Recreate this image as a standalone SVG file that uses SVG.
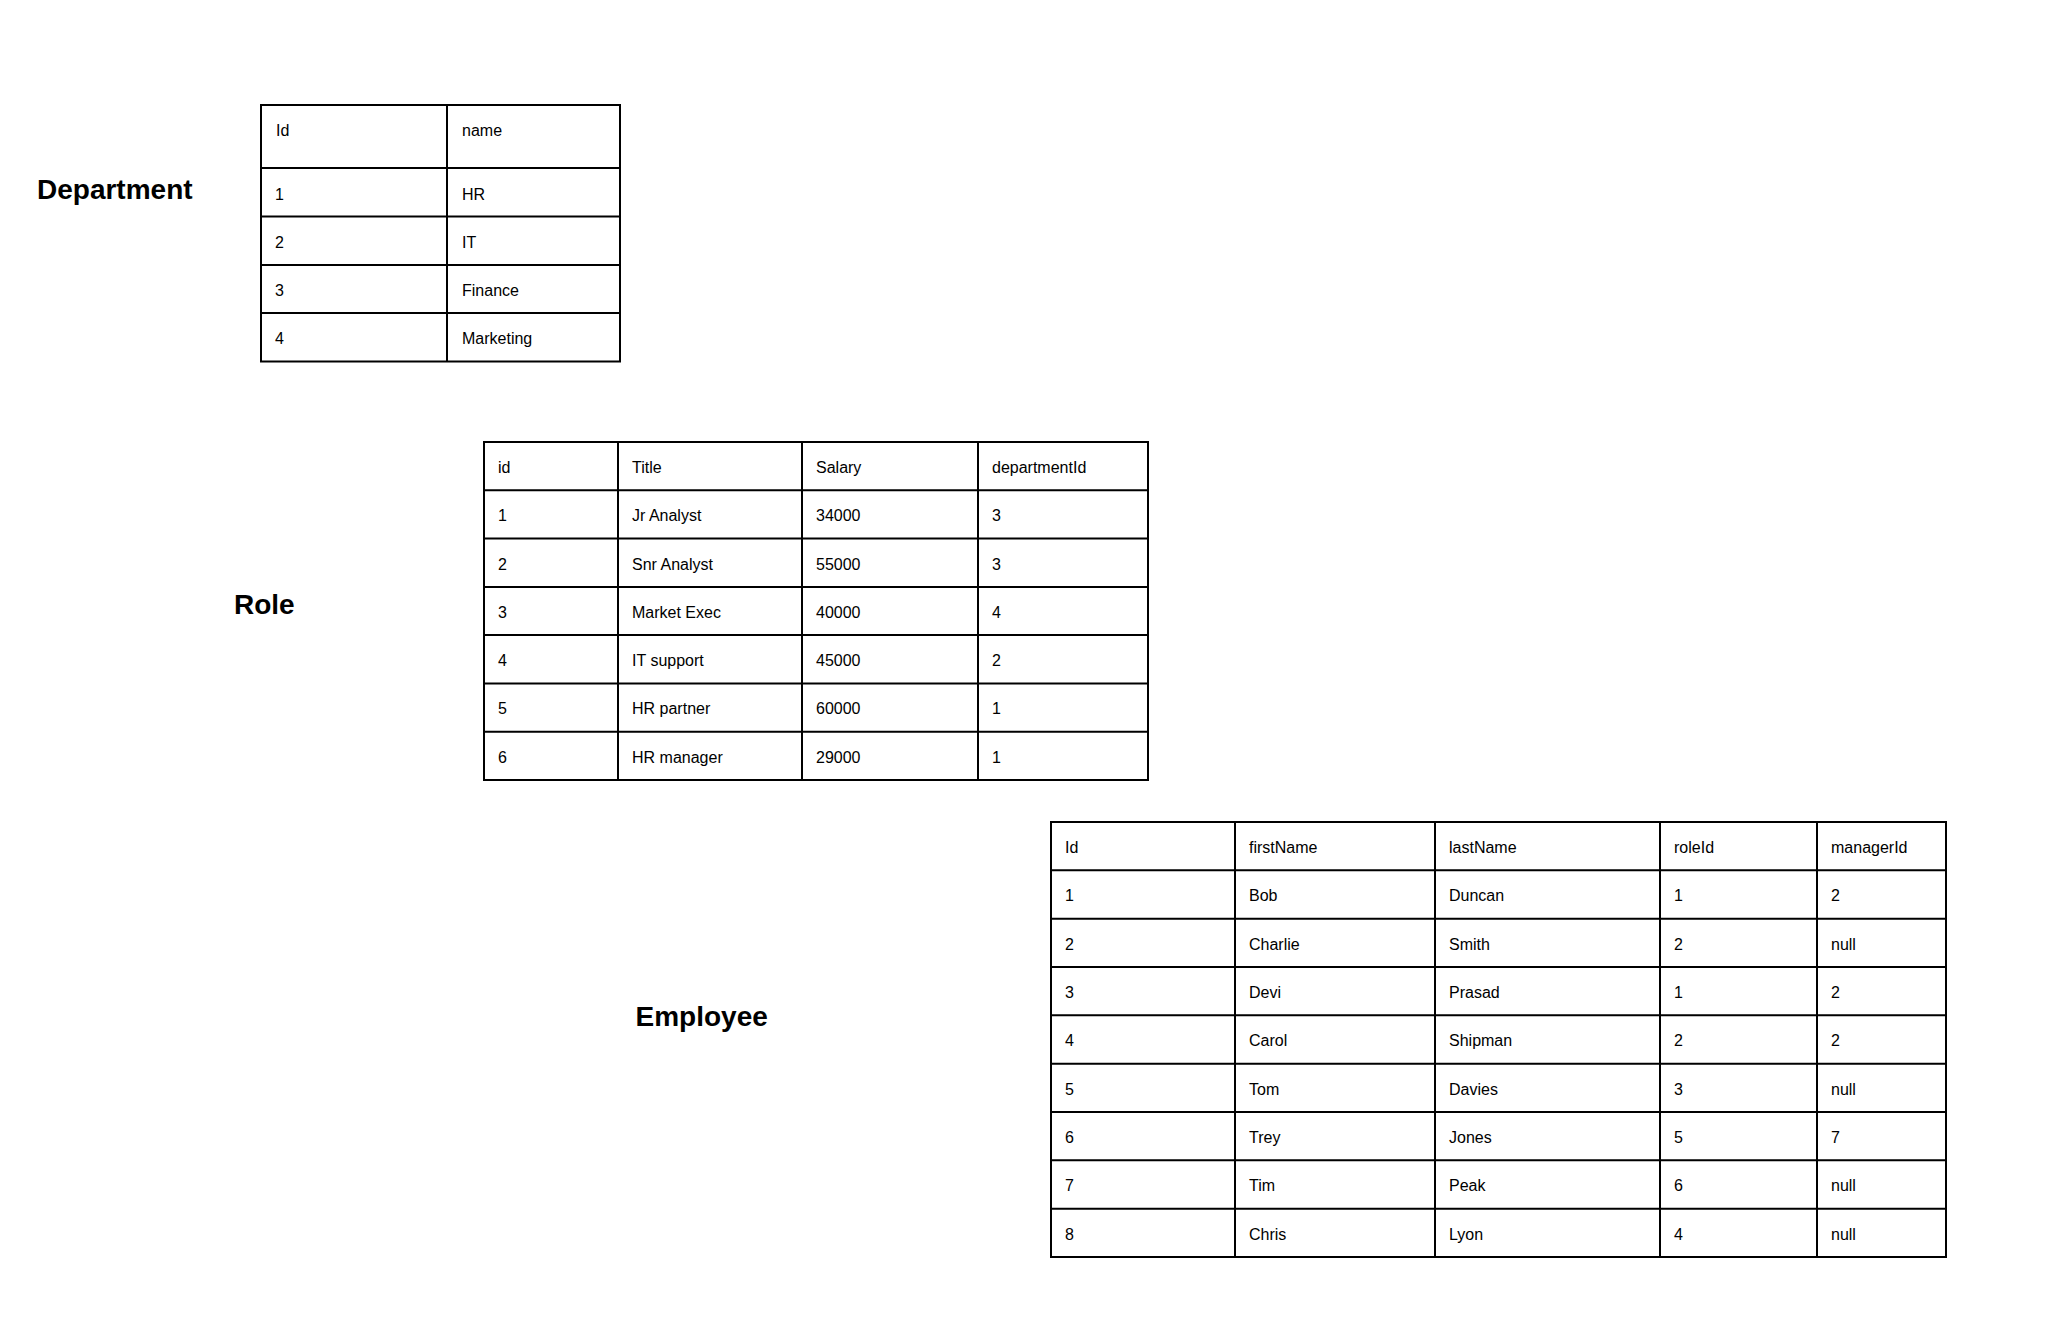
<svg xmlns="http://www.w3.org/2000/svg" width="2048" height="1328" viewBox="0 0 2048 1328">
<style>
.grid{fill:none;stroke:#000;stroke-width:2}
.cell{font-family:"Liberation Sans",Arial,sans-serif;font-size:16px;fill:#000}
.title{font-family:"Liberation Sans",Arial,sans-serif;font-size:28px;font-weight:bold;fill:#000}
</style>
<rect width="2048" height="1328" fill="#fff"/>
<g id="department">
<text class="title" x="37" y="199">Department</text>
<rect class="grid" x="261" y="105" width="359" height="256.5"/>
<path class="grid" d="M447 105V361.5M261 168H620M261 216.5H620M261 265H620M261 313H620"/>
<g class="cell">
<text x="276" y="136">Id</text><text x="462" y="136">name</text>
<text x="275" y="199.5">1</text><text x="462" y="199.5">HR</text>
<text x="275" y="247.5">2</text><text x="462" y="247.5">IT</text>
<text x="275" y="296">3</text><text x="462" y="296">Finance</text>
<text x="275" y="344">4</text><text x="462" y="344">Marketing</text>
</g>
</g>
<g id="role">
<text class="title" x="234" y="614">Role</text>
<rect class="grid" x="484" y="442" width="664" height="338"/>
<path class="grid" d="M618 442V780M802 442V780M978 442V780M484 490.3H1148M484 538.6H1148M484 586.9H1148M484 635.1H1148M484 683.4H1148M484 731.7H1148"/>
<g class="cell">
<text x="498" y="473">id</text><text x="632" y="473">Title</text><text x="816" y="473">Salary</text><text x="992" y="473">departmentId</text>
<text x="498" y="521.3">1</text><text x="632" y="521.3">Jr Analyst</text><text x="816" y="521.3">34000</text><text x="992" y="521.3">3</text>
<text x="498" y="569.6">2</text><text x="632" y="569.6">Snr Analyst</text><text x="816" y="569.6">55000</text><text x="992" y="569.6">3</text>
<text x="498" y="617.9">3</text><text x="632" y="617.9">Market Exec</text><text x="816" y="617.9">40000</text><text x="992" y="617.9">4</text>
<text x="498" y="666.1">4</text><text x="632" y="666.1">IT support</text><text x="816" y="666.1">45000</text><text x="992" y="666.1">2</text>
<text x="498" y="714.4">5</text><text x="632" y="714.4">HR partner</text><text x="816" y="714.4">60000</text><text x="992" y="714.4">1</text>
<text x="498" y="762.7">6</text><text x="632" y="762.7">HR manager</text><text x="816" y="762.7">29000</text><text x="992" y="762.7">1</text>
</g>
</g>
<g id="employee">
<text class="title" x="635.5" y="1026">Employee</text>
<rect class="grid" x="1051" y="822" width="895" height="435"/>
<path class="grid" d="M1235 822V1257M1435 822V1257M1660 822V1257M1817 822V1257M1051 870.3H1946M1051 918.7H1946M1051 967H1946M1051 1015.3H1946M1051 1063.7H1946M1051 1112H1946M1051 1160.3H1946M1051 1208.7H1946"/>
<g class="cell">
<text x="1065" y="853">Id</text><text x="1249" y="853">firstName</text><text x="1449" y="853">lastName</text><text x="1674" y="853">roleId</text><text x="1831" y="853">managerId</text>
<text x="1065" y="901.3">1</text><text x="1249" y="901.3">Bob</text><text x="1449" y="901.3">Duncan</text><text x="1674" y="901.3">1</text><text x="1831" y="901.3">2</text>
<text x="1065" y="949.7">2</text><text x="1249" y="949.7">Charlie</text><text x="1449" y="949.7">Smith</text><text x="1674" y="949.7">2</text><text x="1831" y="949.7">null</text>
<text x="1065" y="998">3</text><text x="1249" y="998">Devi</text><text x="1449" y="998">Prasad</text><text x="1674" y="998">1</text><text x="1831" y="998">2</text>
<text x="1065" y="1046.3">4</text><text x="1249" y="1046.3">Carol</text><text x="1449" y="1046.3">Shipman</text><text x="1674" y="1046.3">2</text><text x="1831" y="1046.3">2</text>
<text x="1065" y="1094.7">5</text><text x="1249" y="1094.7">Tom</text><text x="1449" y="1094.7">Davies</text><text x="1674" y="1094.7">3</text><text x="1831" y="1094.7">null</text>
<text x="1065" y="1143">6</text><text x="1249" y="1143">Trey</text><text x="1449" y="1143">Jones</text><text x="1674" y="1143">5</text><text x="1831" y="1143">7</text>
<text x="1065" y="1191.3">7</text><text x="1249" y="1191.3">Tim</text><text x="1449" y="1191.3">Peak</text><text x="1674" y="1191.3">6</text><text x="1831" y="1191.3">null</text>
<text x="1065" y="1239.7">8</text><text x="1249" y="1239.7">Chris</text><text x="1449" y="1239.7">Lyon</text><text x="1674" y="1239.7">4</text><text x="1831" y="1239.7">null</text>
</g>
</g>
</svg>
